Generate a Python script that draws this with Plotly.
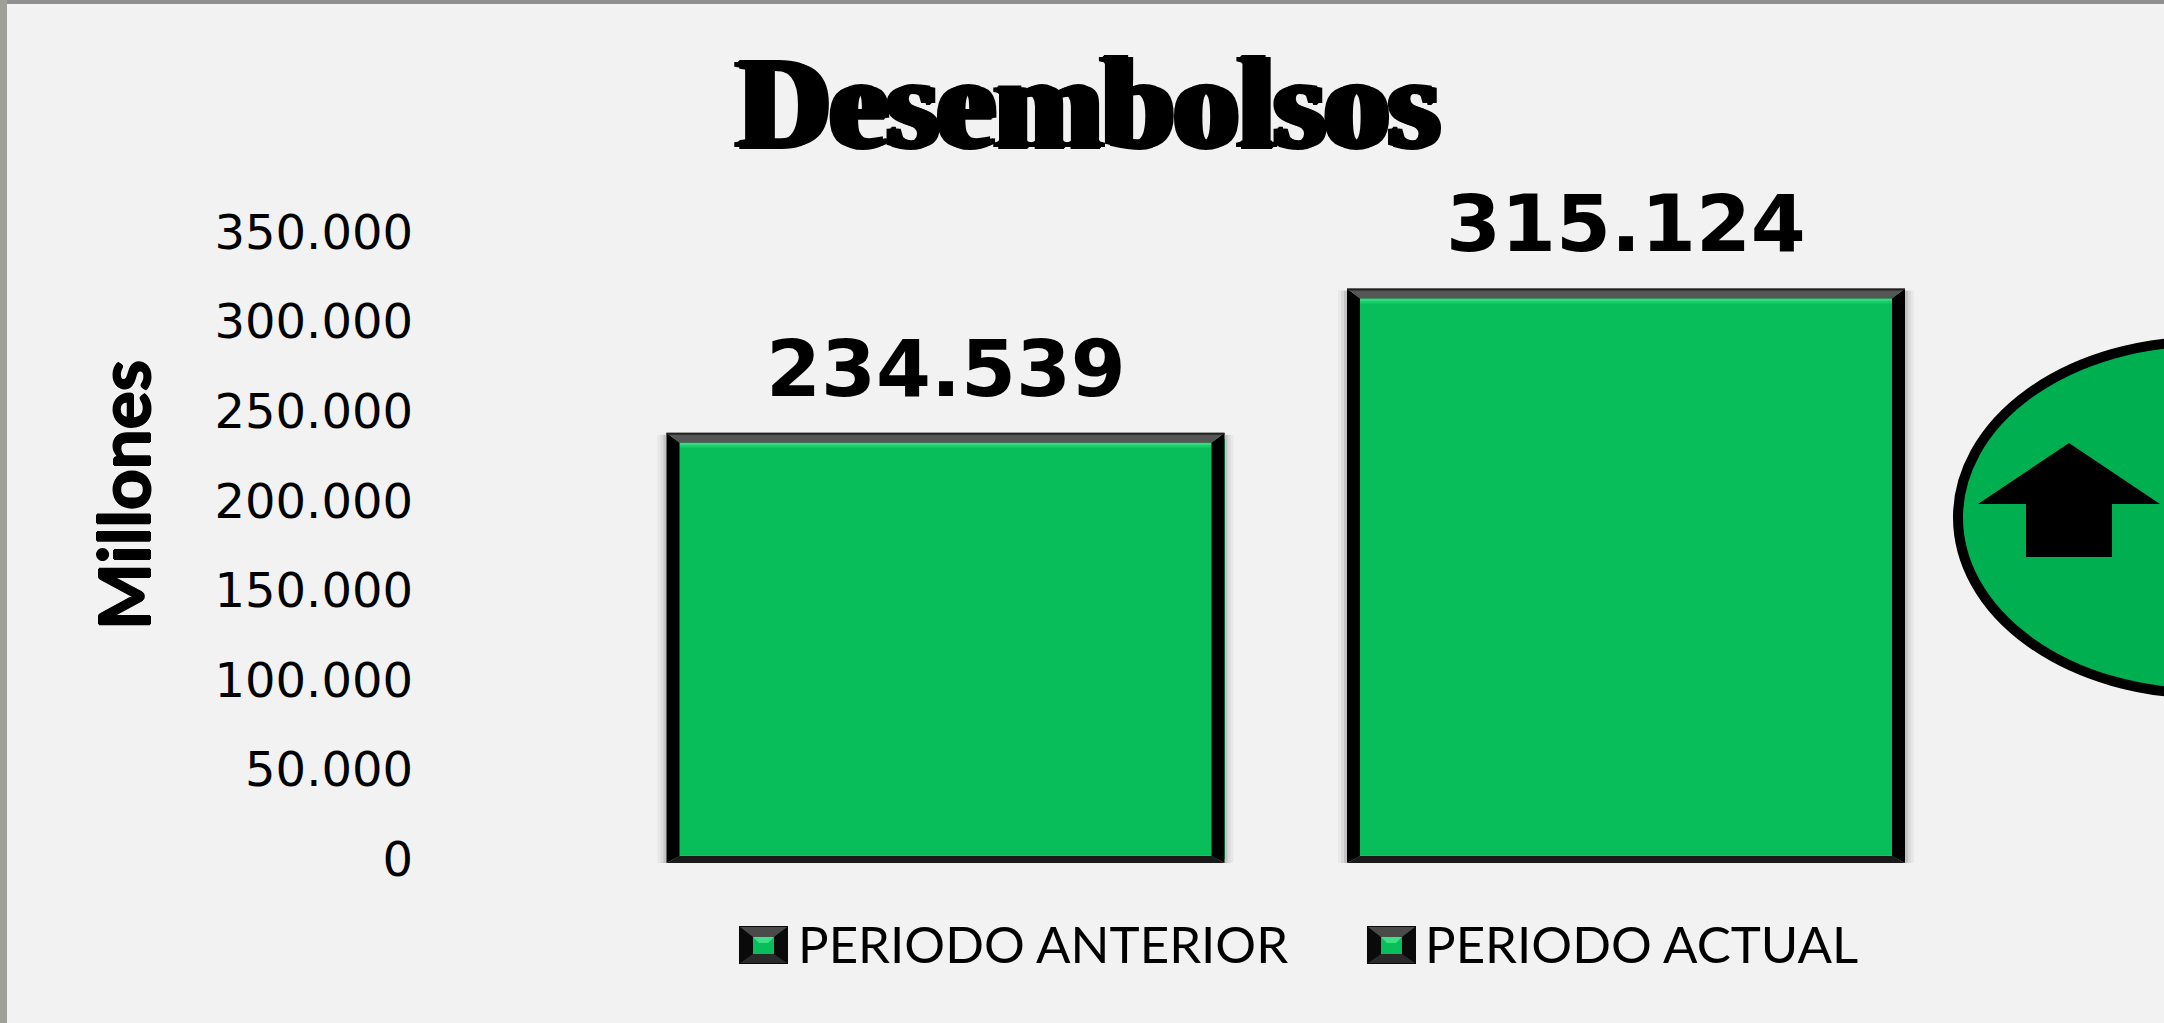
import plotly.graph_objects as go

W, H = 2164, 1023
AXIS_TOP, AXIS_ZERO = 232, 859   # pixel rows of 350.000 and 0
L, R, T, B = 420, 0, AXIS_TOP, 155   # plot margins

series_names = ["PERIODO ANTERIOR", "PERIODO ACTUAL"]
series_values = [234539, 315124]
value_labels = ["234.539", "315.124"]
tick_values = [0, 50000, 100000, 150000, 200000, 250000, 300000, 350000]
tick_labels = ["0", "50.000", "100.000", "150.000", "200.000", "250.000", "300.000", "350.000"]
title_text = "Desembolsos"
axis_title = "Millones"
AXIS_MAX = 350000

BG = "#F2F2F2"
GREEN = "#07BE5A"
BAR_W = 0.82
UNIT = 680.5
X0 = 945.5
xrange_ = [(L - X0) / UNIT, (W - R - X0) / UNIT]
PX_PER_VALUE = (AXIS_ZERO - AXIS_TOP) / AXIS_MAX
axis_min = -(H - B - AXIS_ZERO) / PX_PER_VALUE   # room below zero for the bars' bevel

def px(x):
    return (x - L) / (W - L - R)
def py(y):
    return 1 - (y - T) / (H - T - B)

fig = go.Figure()
for i, (n, v) in enumerate(zip(series_names, series_values)):
    fig.add_bar(x=[i], y=[v], width=BAR_W, name=n, showlegend=False,
                marker=dict(color=GREEN, line=dict(width=0)), cliponaxis=False)

shapes = []
def poly(pts, color, layer="above"):
    d = "M" + "L".join(f"{px(a):.5f},{py(b):.5f}" for a, b in pts) + "Z"
    shapes.append(dict(type="path", path=d, xref="paper", yref="paper",
                       fillcolor=color, line=dict(width=0), layer=layer))

# frame
poly([(0, 0), (W, 0), (W, 4), (0, 4)], "#909090")
poly([(0, 0), (7, 0), (7, H), (0, H)], "#A0A09A")

annotations = []
half = BAR_W * UNIT / 2
TOP_OUT, BOT_OUT = 6, 4
for i, (v, label) in enumerate(zip(series_values, value_labels)):
    hgt = v * PX_PER_VALUE
    def bevel(path, color, layer="above"):
        shapes.append(dict(type="path", path=path, xref="x", yref="y", xsizemode="pixel",
                           ysizemode="pixel", xanchor=i, yanchor=v, fillcolor=color,
                           line=dict(width=0), layer=layer))
    def rect(x0, x1, y0, y1, color, layer="above"):
        bevel(f"M{x0},{y0} L{x1},{y0} L{x1},{y1} L{x0},{y1} Z", color, layer)
    top, bot = TOP_OUT, -hgt - BOT_OUT
    s = 13
    # soft shadow
    for off, alpha in ((9, 0.04), (6, 0.06), (3, 0.10)):
        rect(-half - off, half + off, top - 2, bot, f"rgba(0,0,0,{alpha})", "below")
    # lit strip below the top band, and at the bottom
    rect(-half + s, half - s, top - 10, top - 13, "#2EDC7C")
    rect(-half + s, half - s, top - 13, top - 15, "#16CB68")
    rect(-half + s, half - s, bot + 8, bot + 7, "#14C565")
    # black sides, dark bottom, grey top
    bevel(f"M{-half},{bot} L{-half+s},{bot+7} L{-half+s},{top-10} L{-half},{top} Z", "black")
    bevel(f"M{half},{bot} L{half-s},{bot+7} L{half-s},{top-10} L{half},{top} Z", "black")
    bevel(f"M{-half},{bot} L{half},{bot} L{half-s},{bot+7} L{-half+s},{bot+7} Z", "#1A1A1A")
    bevel(f"M{-half},{top} L{half},{top} L{half-s},{top-10} L{-half+s},{top-10} Z", "#555555")
    rect(-half, half, top, top - 2, "#222222")
    annotations.append(dict(text=f"<b>{label}</b>", x=i, y=v, xref="x", yref="y", showarrow=False,
                            xanchor="center", yanchor="middle", yshift=70,
                            font=dict(family="DejaVu Sans", size=79, color="black")))

# ellipse with arrow
cx, cy, a, b = 2203, 517.5, 245, 176
shapes.append(dict(type="circle", xref="paper", yref="paper", x0=px(cx - a + 4), x1=px(cx + a + 4),
                   y0=py(cy + b + 5), y1=py(cy - b + 5), fillcolor="rgba(0,0,0,0.15)",
                   line=dict(width=0), layer="above"))
shapes.append(dict(type="circle", xref="paper", yref="paper", x0=px(cx - a), x1=px(cx + a),
                   y0=py(cy + b), y1=py(cy - b), fillcolor="#00B050",
                   line=dict(color="black", width=10), layer="above"))
poly([(2069, 443), (2160, 504), (2112, 504), (2112, 557), (2026, 557), (2026, 504), (1978, 504)], "black")

# legend
for x_icon, x_text, name in zip((739, 1367), (796, 1423), series_names):
    sw, sh = 49, 38
    y0 = 926
    poly([(x_icon, y0), (x_icon + sw, y0), (x_icon + sw, y0 + sh), (x_icon, y0 + sh)], "#0A0A0A")
    poly([(x_icon + 1, y0 + 1), (x_icon + sw - 1, y0 + 1), (x_icon + sw - 14, y0 + 11), (x_icon + 14, y0 + 11)], "#4A4A4A")
    poly([(x_icon + 1, y0 + sh - 1), (x_icon + sw - 1, y0 + sh - 1), (x_icon + sw - 14, y0 + sh - 10), (x_icon + 14, y0 + sh - 10)], "#2A2A2A")
    poly([(x_icon + 14, y0 + 11), (x_icon + sw - 14, y0 + 11), (x_icon + sw - 14, y0 + sh - 10), (x_icon + 14, y0 + sh - 10)], GREEN)
    poly([(x_icon + 14, y0 + 11), (x_icon + sw - 14, y0 + 11), (x_icon + sw - 20, y0 + 17), (x_icon + 20, y0 + 17)], "#3DE085")
    annotations.append(dict(text=name, xref="paper", yref="paper", x=px(x_text), y=py(y0 + 17),
                            xanchor="left", yanchor="middle", showarrow=False,
                            font=dict(family="Lato", size=51, color="black")))

annotations.append(dict(text=f"<b>{axis_title}</b>", xref="paper", yref="paper", x=px(122), y=py(495),
                        xanchor="center", yanchor="middle", textangle=-90, showarrow=False,
                        font=dict(family="Lato", size=71, color="black", shadow="0 1px 0 black, 0 -1px 0 black, 1px 0 0 black, -1px 0 0 black")))
annotations.append(dict(text=f"<b>{title_text}</b>", xref="paper", yref="paper", x=px(1088), y=py(103),
                        xanchor="center", yanchor="middle", showarrow=False,
                        font=dict(family="Liberation Serif", size=129, color="black",
                                  shadow="5px 0 0 black, -5px 0 0 black, 3px 0 0 black, -3px 0 0 black, 1px 1px 0 black, -1px -1px 0 black, 0 2px 0 black, 0 -2px 0 black")))

fig.update_layout(
    width=W, height=H, margin=dict(l=L, r=R, t=T, b=B, pad=0),
    paper_bgcolor=BG, plot_bgcolor=BG, showlegend=False, bargap=0,
    shapes=shapes, annotations=annotations,
    xaxis=dict(range=xrange_, showticklabels=False, showgrid=False, zeroline=False, showline=False, ticks=""),
    yaxis=dict(range=[axis_min, AXIS_MAX], tickvals=tick_values, ticktext=tick_labels, showgrid=False,
               zeroline=False, showline=False, ticks="", ticklabelstandoff=6,
               tickfont=dict(family="DejaVu Sans", size=48, color="black")),
)
fig.write_html("out.html", config=dict(displayModeBar=False),
               post_script="document.body.style.margin='0';document.body.style.overflow='hidden';")
